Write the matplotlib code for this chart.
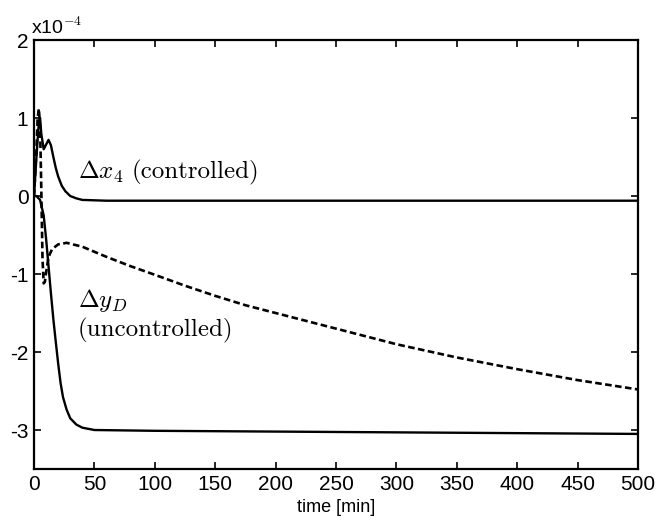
import numpy as np
import matplotlib
matplotlib.use("Agg")
import matplotlib.pyplot as plt

# values, in units of 1e-4
t_x4 = [0, 2, 4, 5, 6, 8, 10, 12, 14, 16, 18, 20, 23, 26, 30, 35, 40, 60, 100, 200, 300, 400, 500]
x4_ctrl = [0, 0.5, 0.95, 1.0, 0.8, 0.6, 0.66, 0.72, 0.65, 0.5, 0.36, 0.25, 0.13, 0.06, 0.0, -0.03, -0.05, -0.06, -0.06, -0.06, -0.06, -0.06, -0.06]

t_yd = [0, 2, 5, 8, 10, 12, 14, 16, 18, 20, 22, 24, 27, 30, 35, 40, 50, 100, 200, 300, 400, 500]
yd_ctrl = [0, 0, -0.05, -0.25, -0.55, -0.9, -1.25, -1.58, -1.87, -2.15, -2.4, -2.58, -2.74, -2.85, -2.93, -2.97, -3.0, -3.01, -3.02, -3.03, -3.04, -3.05]

t_unc = [0, 2, 3, 4, 5, 6, 7, 8, 9, 10, 12, 15, 20, 27, 40, 60, 80, 100, 125, 150, 175, 200,
         250, 300, 350, 400, 450, 500]
yd_unc = [0, 0.6, 1.0, 1.12, 0.9, 0.1, -0.8, -1.12, -1.1, -0.98, -0.78, -0.68, -0.62, -0.60, -0.65,
          -0.78, -0.90, -1.01, -1.15, -1.28, -1.40, -1.50, -1.70, -1.90, -2.07, -2.22, -2.36, -2.48]

xticks = [0, 50, 100, 150, 200, 250, 300, 350, 400, 450, 500]
yticks = [-3, -2, -1, 0, 1, 2]

plt.rcParams['font.family'] = ['Liberation Sans', 'DejaVu Sans']
plt.rcParams['axes.unicode_minus'] = False
plt.rcParams['mathtext.fontset'] = 'cm'

fig = plt.figure(figsize=(6.57, 5.28), dpi=100)
ax = fig.add_axes([0.0518, 0.1117, 0.9193, 0.8125])

ax.plot(t_x4, x4_ctrl, color='black', lw=1.7)
ax.plot(t_yd, yd_ctrl, color='black', lw=1.7)
ax.plot(t_unc, yd_unc, color='black', lw=1.9, dashes=(2.5, 1.3))

ax.set_xlim(0, 500)
ax.set_ylim(-3.5, 2)
ax.set_xticks(xticks)
ax.set_yticks(yticks)
ax.tick_params(direction='in', length=5, width=1.2, top=True, right=True, labelsize=15, pad=4)
for s in ax.spines.values():
    s.set_linewidth(1.6)

ax.text(-0.005, 1.005, r'x10$^{-4}$', transform=ax.transAxes, fontsize=14, ha='left', va='bottom')
ax.set_xlabel('time [min]', fontsize=13)

ax.text(36, 0.22, r'$\Delta x_4$', fontsize=18)
ax.text(81, 0.22, '(controlled)', fontsize=18, family='cmr10')
ax.text(36, -1.42, r'$\Delta y_D$', fontsize=18)
ax.text(36, -1.8, '(uncontrolled)', fontsize=18, family='cmr10')

fig.savefig('out.png', dpi=100)
